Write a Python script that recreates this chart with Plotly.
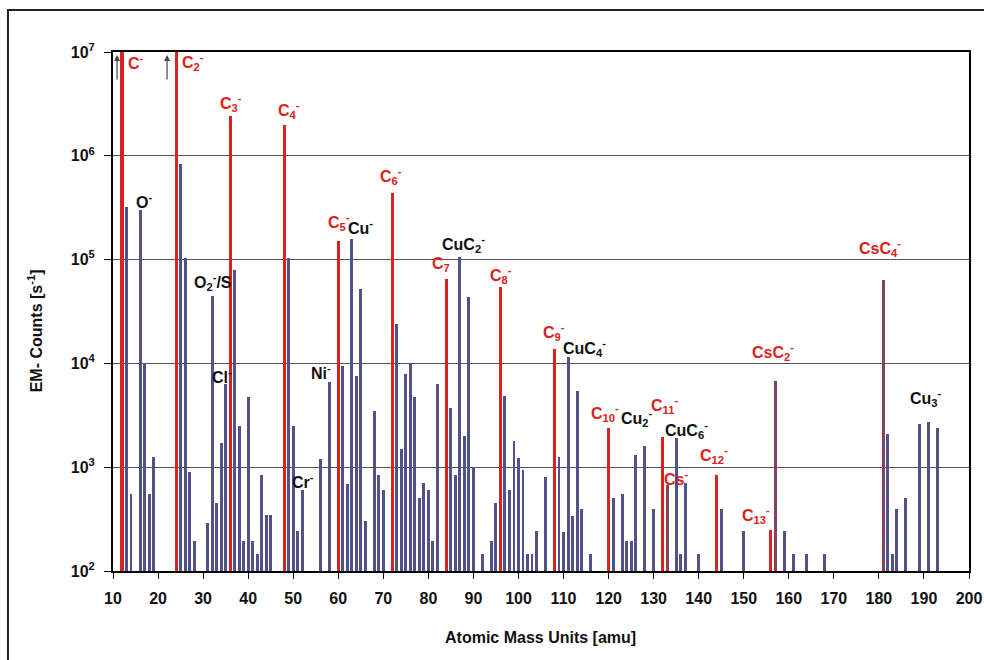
import plotly.graph_objects as go

# ---- data ----
blue_mass = [13, 14, 16, 17, 18, 19, 25, 26, 27, 28, 31, 32, 33, 34, 35, 37, 38, 39, 40, 41, 42, 43, 44, 45,
             49, 50, 51, 52, 56, 58, 61, 62, 63, 64, 65, 66, 68, 69, 70, 73, 74, 75, 76, 77, 78, 79, 80, 81, 82,
             85, 86, 87, 88, 89, 90, 92, 94, 95, 97, 98, 99, 100, 101, 102, 103, 104, 106, 109, 110, 111, 112,
             113, 114, 116, 121, 123, 124, 125, 126, 128, 130, 133, 135, 136, 137, 140, 145, 150, 157, 159,
             161, 164, 168, 181, 182, 183, 184, 186, 189, 191, 193]
blue_counts = [3.2e5, 550, 3.0e5, 1.0e4, 550, 1250, 8.3e5, 1.04e5, 900, 195, 290, 4.5e4, 450, 1700, 6300,
               8.0e4, 2500, 195, 4700, 195, 145, 850, 345, 345,
               1.04e5, 2500, 245, 600, 1200, 6600, 9400, 690, 1.58e5, 7600, 5.2e4, 300, 3500, 850, 600,
               2.4e4, 1500, 7900, 1.0e4, 4700, 500, 700, 600, 195, 6300,
               3700, 850, 1.07e5, 2000, 4.4e4, 1000, 147, 195, 450, 4900, 600, 1800, 1230, 950, 147, 147,
               245, 800, 1250, 240, 1.15e4, 340, 5400, 400, 145, 500, 550, 195, 195, 1300, 1600, 400,
               680, 1900, 145, 700, 145, 400, 245, 6800, 245,
               145, 145, 145, 6.3e4, 2100, 145, 400, 500, 2600, 2700, 2400]

red_mass = [12, 24, 36, 48, 60, 72, 84, 96, 108, 120, 132, 144, 156]
red_counts = [1.5e7, 1.5e7, 2.4e6, 2.0e6, 1.5e5, 4.4e5, 6.5e4, 5.4e4, 1.37e4, 2400, 1950, 840, 250]

cs_mass = [133, 157, 181]
cs_counts = [680, 6800, 6.3e4]

y_tick_vals = [100, 1e3, 1e4, 1e5, 1e6, 1e7]
y_tick_text = ["10<sup>2</sup>", "10<sup>3</sup>", "10<sup>4</sup>", "10<sup>5</sup>", "10<sup>6</sup>", "10<sup>7</sup>"]
x_tick_vals = list(range(10, 201, 10))

RED = "#d9231c"
BLUE = "#52528a"
BLACK = "#111111"

# peak labels: (text, colour, mass position, log10 position, anchor)
labels = [
    ("C<sup>-</sup>", RED, 12.9, 6.9, "left"),
    ("C<sub>2</sub><sup>-</sup>", RED, 24.9, 6.9, "left"),
    ("C<sub>3</sub><sup>-</sup>", RED, 36.2, 6.51, "center"),
    ("C<sub>4</sub><sup>-</sup>", RED, 49.1, 6.44, "center"),
    ("O<sup>-</sup>", BLACK, 16.9, 5.56, "center"),
    ("O<sub>2</sub><sup>-</sup>/S", BLACK, 32.2, 4.78, "center"),
    ("Cl<sup>-</sup>", BLACK, 34.2, 3.88, "center"),
    ("Cr<sup>-</sup>", BLACK, 52.2, 2.87, "center"),
    ("Ni<sup>-</sup>", BLACK, 56.2, 3.92, "center"),
    ("C<sub>5</sub><sup>-</sup>", RED, 60.2, 5.36, "center"),
    ("Cu<sup>-</sup>", BLACK, 64.9, 5.31, "center"),
    ("C<sub>6</sub><sup>-</sup>", RED, 71.7, 5.81, "center"),
    ("C<sub>7</sub>", RED, 82.8, 4.95, "center"),
    ("CuC<sub>2</sub><sup>-</sup>", BLACK, 87.7, 5.15, "center"),
    ("C<sub>8</sub><sup>-</sup>", RED, 96.1, 4.85, "center"),
    ("C<sub>9</sub><sup>-</sup>", RED, 107.9, 4.30, "center"),
    ("CuC<sub>4</sub><sup>-</sup>", BLACK, 114.6, 4.15, "center"),
    ("C<sub>10</sub><sup>-</sup>", RED, 119.3, 3.52, "center"),
    ("Cu<sub>2</sub><sup>-</sup>", BLACK, 126.3, 3.47, "center"),
    ("C<sub>11</sub><sup>-</sup>", RED, 132.4, 3.60, "center"),
    ("CuC<sub>6</sub><sup>-</sup>", BLACK, 137.4, 3.36, "center"),
    ("Cs<sup>-</sup>", RED, 135.0, 2.90, "center"),
    ("C<sub>12</sub><sup>-</sup>", RED, 143.4, 3.12, "center"),
    ("C<sub>13</sub><sup>-</sup>", RED, 152.7, 2.54, "center"),
    ("CsC<sub>2</sub><sup>-</sup>", RED, 156.5, 4.11, "center"),
    ("CsC<sub>4</sub><sup>-</sup>", RED, 180.3, 5.11, "center"),
    ("Cu<sub>3</sub><sup>-</sup>", BLACK, 190.5, 3.67, "center"),
]

FONT = "Liberation Sans, Arial, sans-serif"

fig = go.Figure()
fig.add_trace(go.Bar(x=blue_mass, y=blue_counts, width=0.65, marker=dict(color=BLUE, line=dict(width=0)),
                     showlegend=False))
fig.add_trace(go.Bar(x=red_mass, y=red_counts, width=0.7, marker=dict(color=RED, line=dict(width=0)),
                     showlegend=False))
cx, cy = [], []
for m, v in zip(cs_mass, cs_counts):
    cx += [m, m, None]
    cy += [100, v, None]
fig.add_trace(go.Scatter(x=cx, y=cy, mode="lines", line=dict(color=RED, width=2.2, dash="4px,4px"),
                         showlegend=False, hoverinfo="skip"))

annotations = []
for text, col, xm, ly, anc in labels:
    annotations.append(dict(x=xm, y=ly, xref="x", yref="y", text=text, showarrow=False,
                            xanchor=anc, yanchor="middle",
                            font=dict(family=FONT, size=16, color=col, weight="bold")))
# off-scale arrows
for xa in [10.9, 22.0]:
    annotations.append(dict(x=xa, y=6.97, xref="x", yref="y", ax=0, ay=26, text="", showarrow=True,
                            arrowhead=2, arrowsize=1, arrowwidth=1.2, arrowcolor="#444"))
annotations.append(dict(x=-0.091, y=0.462, xref="paper", yref="paper", text="EM- Counts [s<sup>-1</sup>]",
                        textangle=-90, showarrow=False, xanchor="center", yanchor="middle",
                        font=dict(family=FONT, size=16, color=BLACK, weight="bold")))
annotations.append(dict(x=0.499, y=-0.129, xref="paper", yref="paper", text="Atomic Mass Units [amu]",
                        showarrow=False, xanchor="center", yanchor="middle",
                        font=dict(family=FONT, size=16, color=BLACK, weight="bold")))

fig.update_layout(
    width=984, height=660,
    margin=dict(l=113, r=15, t=52, b=89),
    paper_bgcolor="white", plot_bgcolor="white",
    barmode="overlay", bargap=0,
    annotations=annotations,
    shapes=[dict(type="rect", xref="paper", yref="paper", x0=-0.1227, x1=1.08, y0=-0.2, y1=1.0809,
                 line=dict(color="#222", width=2), fillcolor="rgba(0,0,0,0)", layer="below")],
)
fig.update_xaxes(range=[10, 200], tickvals=x_tick_vals, ticks="outside", ticklen=6, tickcolor="black",
                 showgrid=False, zeroline=False, showline=True, linecolor="black", linewidth=2, mirror=True,
                 automargin=False, ticklabelstandoff=6,
                 tickfont=dict(family="Liberation Sans Narrow, Liberation Sans, Arial", size=16, color=BLACK, weight="bold"))
fig.update_yaxes(type="log", range=[2, 7], tickvals=y_tick_vals, ticktext=y_tick_text, ticks="outside",
                 ticklen=7, tickcolor="black", showgrid=True, gridcolor="#555", gridwidth=1.2,
                 showline=True, linecolor="black", linewidth=2, mirror=True, zeroline=False,
                 automargin=False, ticklabelstandoff=6,
                 tickfont=dict(family=FONT, size=16, color=BLACK, weight="bold"))

fig.write_html("out.html")
